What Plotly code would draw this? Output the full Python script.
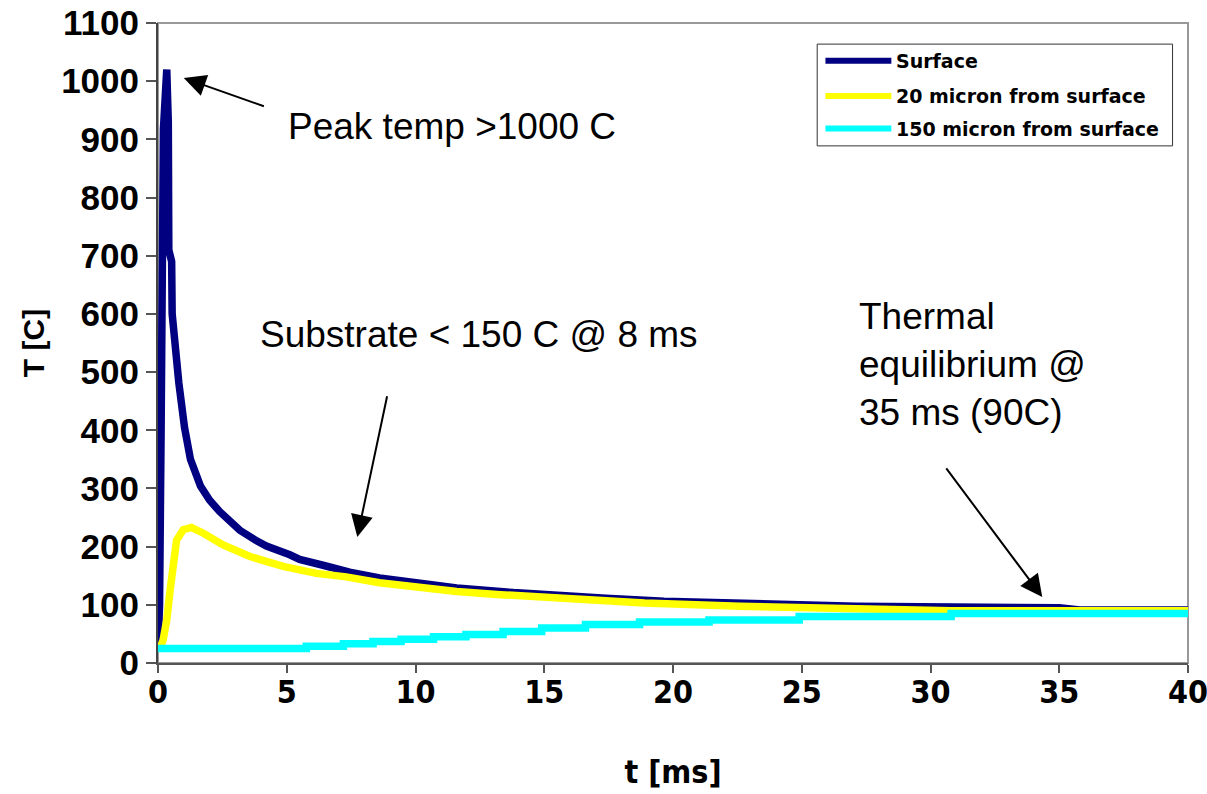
import plotly.graph_objects as go

# ---- data ----
surface_t = [0, 0.06, 0.12, 0.15, 0.21, 0.34, 0.40, 0.42, 0.53, 0.55, 0.64, 0.81, 1.03, 1.26, 1.65,
             2.0, 2.4, 2.79, 3.18, 3.83, 4.21, 5.12, 5.5, 6.41, 7.44, 8.6, 9.9, 11.6, 13.8, 15.45,
             17.4, 19.65, 22.7, 27.1, 35.0, 35.8, 40]
surface_T = [25, 100, 395, 705, 917, 1020, 930, 710, 690, 600, 550, 481, 405, 350, 304,
             280, 260, 243, 228, 210, 201, 186, 178, 168, 156, 146, 138, 129, 121, 115.5,
             111.5, 106.3, 101.7, 97.7, 94.9, 91, 91]

m20_t = [0, 0.12, 0.2, 0.34, 0.47, 0.6, 0.72, 0.98, 1.3, 1.76, 2.53, 3.57, 4.86, 6.15, 7.31,
         8.6, 9.9, 11.6, 13.3, 14.9, 16.6, 18.9, 22.6, 27.1, 30.8, 40]
m20_T = [25, 30, 40, 74, 125, 183, 211, 229, 233, 223, 203, 183, 166, 154, 148,
         138, 131, 123, 117.5, 112.6, 108, 103, 97.7, 93, 90, 90]

m150_t = [0, 5.76, 7.2, 8.35, 9.44, 10.7, 11.96, 13.4, 14.9, 16.6, 18.7, 21.4, 24.9, 30.8, 40]
m150_T = [25, 29, 33, 37, 41, 45, 49, 54, 60, 66, 70.5, 74, 80, 85, 85]

series_names = ["Surface", "20 micron from surface", "150 micron from surface"]
series_colors = ["#000080", "#FFFF00", "#00FFFF"]

x_ticks = [0, 5, 10, 15, 20, 25, 30, 35, 40]
y_ticks = [0, 100, 200, 300, 400, 500, 600, 700, 800, 900, 1000, 1100]

fig = go.Figure()
fig.add_trace(go.Scatter(x=surface_t, y=surface_T, mode="lines", name=series_names[0],
                         line=dict(color=series_colors[0], width=7.5), showlegend=False))
fig.add_trace(go.Scatter(x=m20_t, y=m20_T, mode="lines", name=series_names[1],
                         line=dict(color=series_colors[1], width=7.5), showlegend=False))
fig.add_trace(go.Scatter(x=m150_t, y=m150_T, mode="lines", name=series_names[2],
                         line=dict(color=series_colors[2], width=7.5, shape="hv"), showlegend=False))

bold_arial = "Liberation Sans, Arial, sans-serif"
narrow = "Liberation Sans Narrow, Arial Narrow, DejaVu Sans Condensed, Liberation Sans, sans-serif"

fig.update_layout(
    width=1207, height=794,
    margin=dict(l=158, r=19, t=23, b=131),
    paper_bgcolor="white", plot_bgcolor="white",
    showlegend=False,
    xaxis=dict(range=[0, 40], tickvals=x_ticks, ticks="outside", ticklen=8, tickwidth=1.5,
               tickcolor="#555", showline=True, linecolor="#555", linewidth=2, showgrid=False,
               zeroline=False, automargin=False, ticklabelstandoff=-8, ticklabeloverflow="allow",
               tickfont=dict(family=narrow, size=32, color="black", weight="bold"),
               title=dict(text="t [ms]", font=dict(family=narrow, size=32, color="black", weight="bold"),
                          standoff=50)),
    yaxis=dict(range=[0, 1100], tickvals=y_ticks, ticks="outside", ticklen=10, tickwidth=1.5,
               tickcolor="#555", showline=True, linecolor="#444", linewidth=2, showgrid=False,
               zeroline=False, automargin=False, ticklabelstandoff=0, ticklabeloverflow="allow",
               tickfont=dict(family=bold_arial, size=35, color="black", weight="bold"),
               title=dict(text="T [C]", font=dict(family=bold_arial, size=30, color="black", weight="bold"),
                          standoff=8)),
)

# plot frame (top/right)
fig.add_shape(type="rect", xref="paper", yref="paper", x0=0, x1=1, y0=0, y1=1,
              line=dict(color="#999", width=2), layer="below")

# custom legend box
fig.add_shape(type="rect", xref="paper", yref="paper", x0=0.640, x1=0.985, y0=0.808, y1=0.967,
              line=dict(color="#333", width=1), fillcolor="white")
leg_y = [0.941, 0.886, 0.835]
for name, col, yy in zip(series_names, series_colors, leg_y):
    fig.add_shape(type="line", xref="paper", yref="paper", x0=0.648, x1=0.712, y0=yy, y1=yy,
                  line=dict(color=col, width=6))
    fig.add_annotation(xref="paper", yref="paper", x=0.715, y=yy, text=name, showarrow=False,
                       xanchor="left", yanchor="middle",
                       font=dict(family="DejaVu Sans", size=19, color="black", weight="bold"))

txt_font = dict(family="Liberation Sans, Arial, sans-serif", size=37, color="black")
fig.add_annotation(x=4.96, y=921.7, text="Peak temp >1000 C", showarrow=False,
                   xanchor="left", yanchor="middle", font=txt_font)
fig.add_annotation(x=3.9, y=564, text="Substrate < 150 C @ 8 ms", showarrow=False,
                   xanchor="left", yanchor="middle", font=txt_font)
fig.add_annotation(x=27.15, y=512.5, text="Thermal<br>equilibrium @<br>35 ms (90C)", showarrow=False,
                   xanchor="left", yanchor="middle", align="left", font=txt_font)

arrows = [((1.0, 1005.5), (4.17, 956)), ((7.74, 216.7), (8.91, 461)), ((34.34, 113.5), (30.57, 337))]
for (tx, ty), (sx, sy) in arrows:
    fig.add_annotation(x=tx, y=ty, ax=sx, ay=sy, axref="x", ayref="y", text="", showarrow=True,
                       arrowhead=2, arrowsize=2.2, arrowwidth=2, arrowcolor="black")

fig.write_html("out.html")
